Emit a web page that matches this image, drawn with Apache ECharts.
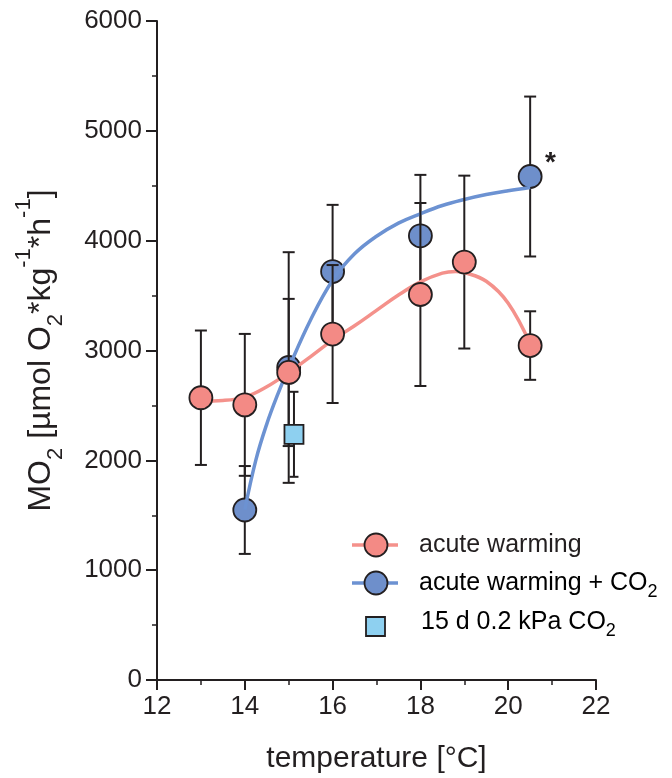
<!DOCTYPE html>
<html>
<head>
<meta charset="utf-8">
<script src="https://cdn.jsdelivr.net/npm/echarts@6/dist/echarts.min.js"></script>
<style>
  html, body { margin: 0; padding: 0; background: #fff; }
  #chart { width: 672px; height: 778px; }
</style>
</head>
<body>
<div id="chart"></div>
<script>
// acute warming (red)
var warmTemp = [13, 14, 15, 16, 18, 19, 20.5];
var warmMO2 = [2570, 2505, 2800, 3150, 3510, 3805, 3045];
var warmSD = [612, 646, 670, 628, 833, 787, 312];
// acute warming + CO2 (blue)
var co2Temp = [14, 15, 16, 18, 20.5];
var co2MO2 = [1548, 2845, 3719, 4044, 4584];
var co2SD = [400, 1050, 607, 555, 728];
// 15 d 0.2 kPa CO2 (square)
var longTemp = [15.12];
var longMO2 = [2237];
var longSD = [387];
// fitted curves
var warmFitT = [13, 13.5, 14, 14.5, 15, 15.5, 16, 16.5, 17, 17.5, 18, 18.5, 18.8, 19, 19.5, 20, 20.5];
var warmFitV = [2540, 2545, 2575, 2670, 2800, 2945, 3095, 3225, 3365, 3505, 3625, 3705, 3720, 3710, 3630, 3430, 3060];
var co2FitT = [14, 14.25, 14.5, 14.75, 15, 15.5, 16, 16.5, 17, 17.5, 18, 18.5, 19, 19.5, 20, 20.5];
var co2FitV = [1550, 2000, 2330, 2600, 2840, 3280, 3640, 3880, 4040, 4160, 4245, 4320, 4375, 4420, 4455, 4485];
// axis ticks
var xMin = 12, xMax = 22, xStep = 2;
var yMin = 0, yMax = 6000, yStep = 1000;

var ink = '#231f20';
var redFill = '#f38a85', redLine = '#f4918b';
var blueFill = '#6e8fcb', blueLine = '#6c92d2';
var sqFill = '#8ed0f0';
var font = "'Liberation Sans', Arial, sans-serif";

function pairs(xs, ys) {
  return xs.map(function (x, i) { return [x, ys[i]]; });
}
function errRows(xs, ys, sd) {
  return xs.map(function (x, i) { return [x, ys[i], ys[i] - sd[i], ys[i] + sd[i]]; });
}
function errBar(capHalf) {
  return function (params, api) {
    var x = api.value(0);
    var lo = api.coord([x, api.value(2)]);
    var hi = api.coord([x, api.value(3)]);
    var st = { stroke: ink, lineWidth: 2 };
    return {
      type: 'group',
      children: [
        { type: 'line', shape: { x1: hi[0], y1: hi[1], x2: lo[0], y2: lo[1] }, style: st },
        { type: 'line', shape: { x1: hi[0] - capHalf, y1: hi[1], x2: hi[0] + capHalf, y2: hi[1] }, style: st },
        { type: 'line', shape: { x1: lo[0] - capHalf, y1: lo[1], x2: lo[0] + capHalf, y2: lo[1] }, style: st }
      ]
    };
  };
}

var chart = echarts.init(document.getElementById('chart'));

var subRich = {
  m: { fontSize: 32, fontFamily: font, color: ink, verticalAlign: 'middle' },
  s: { fontSize: 22, fontFamily: font, color: ink, verticalAlign: 'middle', padding: [30, 0, 0, 0] },
  p: { fontSize: 22, fontFamily: font, color: ink, verticalAlign: 'middle', padding: [0, 0, 34, 0] }
};
var legRich = {
  m: { fontSize: 25, fontFamily: font, color: ink, verticalAlign: 'middle' },
  s: { fontSize: 18, fontFamily: font, color: ink, verticalAlign: 'middle', padding: [18, 0, 0, 0] }
};

chart.setOption({
  backgroundColor: '#fff',
  animation: false,
  grid: { left: 157, right: 76, top: 21, bottom: 98, containLabel: false, outerBoundsMode: 'none' },
  xAxis: {
    type: 'value',
    min: xMin, max: xMax, interval: xStep,
    name: 'temperature [°C]',
    nameLocation: 'middle',
    nameGap: 64,
    nameTextStyle: { fontSize: 30, fontFamily: font, color: ink },
    axisLine: { show: true, onZero: false, lineStyle: { color: ink, width: 2 } },
    axisTick: { show: true, length: 10, lineStyle: { color: ink, width: 2 } },
    minorTick: { show: true, splitNumber: 2, length: 5, lineStyle: { color: ink, width: 1.5 } },
    axisLabel: { fontSize: 26, fontFamily: font, color: ink, margin: 14 },
    splitLine: { show: false }
  },
  yAxis: {
    type: 'value',
    min: yMin, max: yMax, interval: yStep,
    name: '{m|MO}{s|2}{m| [µmol O}{s|2}{m|*kg}{p|-1}{m|*h}{p|-1}{m|]}',
    nameLocation: 'middle',
    nameRotate: 90,
    nameGap: 88,
    nameTextStyle: { fontSize: 32, fontFamily: font, color: ink, rich: subRich },
    axisLine: { show: true, onZero: false, lineStyle: { color: ink, width: 2 } },
    axisTick: { show: true, length: 11, lineStyle: { color: ink, width: 2 } },
    minorTick: { show: true, splitNumber: 2, length: 5, lineStyle: { color: ink, width: 1.5 } },
    axisLabel: { fontSize: 26, fontFamily: font, color: ink, margin: 15, formatter: function (v) { return String(v); } },
    splitLine: { show: false }
  },
  series: [
    {
      name: 'co2 err', type: 'custom', z: 2,
      renderItem: errBar(6),
      encode: { x: 0, y: [2, 3] },
      data: errRows(co2Temp, co2MO2, co2SD)
    },
    {
      name: 'acute warming + CO2', type: 'scatter', z: 3,
      symbol: 'circle', symbolSize: 23,
      itemStyle: { color: blueFill, borderColor: ink, borderWidth: 1.8, opacity: 1 },
      data: pairs(co2Temp, co2MO2)
    },
    {
      name: 'co2 fit', type: 'line', z: 4,
      smooth: 0.4, showSymbol: false, symbol: 'none',
      lineStyle: { color: blueLine, width: 3.5 },
      data: pairs(co2FitT, co2FitV)
    },
    {
      name: 'warm err', type: 'custom', z: 5,
      renderItem: errBar(6),
      encode: { x: 0, y: [2, 3] },
      data: errRows(warmTemp, warmMO2, warmSD)
    },
    {
      name: 'warm fit', type: 'line', z: 6,
      smooth: 0.4, showSymbol: false, symbol: 'none',
      lineStyle: { color: redLine, width: 3.5 },
      data: pairs(warmFitT, warmFitV)
    },
    {
      name: 'acute warming', type: 'scatter', z: 7,
      symbol: 'circle', symbolSize: 23,
      itemStyle: { color: redFill, borderColor: ink, borderWidth: 1.8, opacity: 1 },
      data: pairs(warmTemp, warmMO2)
    },
    {
      name: 'long err', type: 'custom', z: 8,
      renderItem: errBar(4.5),
      encode: { x: 0, y: [2, 3] },
      data: errRows(longTemp, longMO2, longSD)
    },
    {
      name: '15 d 0.2 kPa CO2', type: 'scatter', z: 9,
      symbol: 'rect', symbolSize: 19,
      itemStyle: { color: sqFill, borderColor: ink, borderWidth: 1.8, opacity: 1 },
      data: pairs(longTemp, longMO2)
    }
  ],
  graphic: [
    // significance mark
    { type: 'text', x: 545, y: 149, style: { text: '*', font: 'bold 28px ' + font, fill: ink } },
    // legend
    { type: 'line', shape: { x1: 352, y1: 545, x2: 398, y2: 545 }, style: { stroke: redLine, lineWidth: 3.5 } },
    { type: 'circle', shape: { cx: 376, cy: 545, r: 11.5 }, style: { fill: redFill, stroke: ink, lineWidth: 1.8 } },
    { type: 'text', x: 419, y: 545, style: { text: 'acute warming', font: '25px ' + font, fill: ink, verticalAlign: 'middle' } },
    { type: 'line', shape: { x1: 352, y1: 583, x2: 398, y2: 583 }, style: { stroke: blueLine, lineWidth: 3.5 } },
    { type: 'circle', shape: { cx: 376, cy: 583, r: 11.5 }, style: { fill: blueFill, stroke: ink, lineWidth: 1.8 } },
    { type: 'text', x: 419, y: 583, style: { text: '{m|acute warming + CO}{s|2}', verticalAlign: 'middle', rich: legRich } },
    { type: 'rect', shape: { x: 366, y: 617, width: 19, height: 19 }, style: { fill: sqFill, stroke: ink, lineWidth: 1.8 } },
    { type: 'text', x: 421, y: 622, style: { text: '{m|15 d 0.2 kPa CO}{s|2}', verticalAlign: 'middle', rich: legRich } }
  ]
});
</script>
</body>
</html>
